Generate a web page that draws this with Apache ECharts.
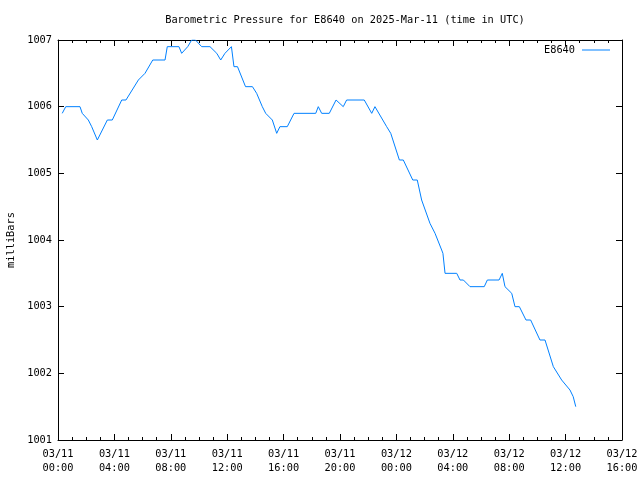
<!DOCTYPE html>
<html><head><meta charset="utf-8">
<script src="https://cdn.jsdelivr.net/npm/echarts@6/dist/echarts.min.js"></script>
<style>html,body{margin:0;padding:0;background:#fff}#c{width:640px;height:480px}</style>
</head><body><div id="c"></div>
<script>
// hours since 2025-03-11 00:00 UTC
const hours = [0.30,0.55,1.56,1.72,2.15,2.39,2.79,3.50,3.85,4.52,4.82,5.70,6.17,6.72,7.59,7.75,8.58,8.77,9.20,9.48,9.75,10.19,10.78,11.26,11.54,11.84,12.30,12.48,12.73,13.30,13.79,14.09,14.49,14.73,15.20,15.51,15.74,16.26,16.74,18.28,18.46,18.70,19.24,19.72,20.23,20.47,21.72,22.25,22.48,23.31,23.60,24.21,24.49,25.16,25.48,25.79,26.38,26.74,27.21,27.30,27.45,28.28,28.51,28.75,29.22,30.23,30.45,31.28,31.51,31.70,32.18,32.41,32.72,33.19,33.52,34.18,34.54,35.13,35.72,36.31,36.54,36.72];
const pressure = [1005.9,1006.0,1006.0,1005.9,1005.8,1005.7,1005.5,1005.8,1005.8,1006.1,1006.1,1006.4,1006.5,1006.7,1006.7,1006.9,1006.9,1006.8,1006.9,1007.0,1007.0,1006.9,1006.9,1006.8,1006.7,1006.8,1006.9,1006.6,1006.6,1006.3,1006.3,1006.2,1006.0,1005.9,1005.8,1005.6,1005.7,1005.7,1005.9,1005.9,1006.0,1005.9,1005.9,1006.1,1006.0,1006.1,1006.1,1005.9,1006.0,1005.7,1005.6,1005.2,1005.2,1004.9,1004.9,1004.6,1004.25,1004.1,1003.85,1003.8,1003.5,1003.5,1003.4,1003.4,1003.3,1003.3,1003.4,1003.4,1003.5,1003.3,1003.2,1003.0,1003.0,1002.8,1002.8,1002.5,1002.5,1002.1,1001.9,1001.75,1001.65,1001.5];
const xTickLabels = ["03/11\n00:00","03/11\n04:00","03/11\n08:00","03/11\n12:00","03/11\n16:00","03/11\n20:00","03/12\n00:00","03/12\n04:00","03/12\n08:00","03/12\n12:00","03/12\n16:00"];
const seriesName = "E8640";
const titleText = "Barometric Pressure for E8640 on 2025-Mar-11 (time in UTC)";
const yName = "milliBars";

const font = "DejaVu Sans Mono";
const chart = echarts.init(document.getElementById('c'), null, {renderer:'canvas'});
const tickStyle = {color:'#000', width:1};
chart.setOption({
  animation:false,
  backgroundColor:'#fff',
  title:{text:titleText, left:340, top:10, textAlign:'center',
    textStyle:{fontFamily:font, fontSize:10.3, fontWeight:'normal', color:'#000'}},
  legend:{show:true, right:25, top:40, icon:'rect', itemWidth:28, itemHeight:1, align:'right', itemGap:0,
    itemStyle:{color:'#0080ff'},
    textStyle:{fontFamily:font, fontSize:10.3, color:'#000', padding:[0,2,0,0]}},
  grid:{left:58, right:18, top:40, bottom:40, show:false, containLabel:false, outerBoundsMode:'none'},
  xAxis:[{type:'value', min:0, max:40, interval:4,
      axisLine:{show:true, onZero:false, lineStyle:{color:'#000'}},
      axisTick:{show:true, inside:true, length:6, lineStyle:tickStyle},
      minorTick:{show:true, splitNumber:4, length:3, lineStyle:tickStyle},
      splitLine:{show:false},
      axisLabel:{margin:7, fontFamily:font, fontSize:10.3, color:'#000', lineHeight:14,
        formatter:(v)=>xTickLabels[Math.round(v/4)]}},
    {type:'value', position:'top', min:0, max:40, interval:4,
      axisLine:{show:true, onZero:false, lineStyle:{color:'#000'}},
      axisTick:{show:true, inside:true, length:6, lineStyle:tickStyle},
      minorTick:{show:true, splitNumber:4, length:3, lineStyle:tickStyle},
      splitLine:{show:false}, axisLabel:{show:false}}],
  yAxis:[{type:'value', position:'left', min:1001, max:1007, interval:1,
      name:yName, nameLocation:'middle', nameGap:42, nameRotate:90,
      nameTextStyle:{fontFamily:font, fontSize:10.3, color:'#000'},
      axisLine:{show:true, onZero:false, lineStyle:{color:'#000'}},
      axisTick:{show:true, inside:true, length:6, lineStyle:tickStyle},
      splitLine:{show:false},
      axisLabel:{margin:6, fontFamily:font, fontSize:10.3, color:'#000', formatter:(v)=>String(v)}},
    {type:'value', position:'right', min:1001, max:1007, interval:1,
      axisLine:{show:true, onZero:false, lineStyle:{color:'#000'}},
      axisTick:{show:true, inside:true, length:6, lineStyle:tickStyle},
      splitLine:{show:false}, axisLabel:{show:false}}],
  series:[{name:seriesName, type:'line', xAxisIndex:0, yAxisIndex:0,
    data:hours.map((h,i)=>[h,pressure[i]]), showSymbol:false, symbol:'none',
    lineStyle:{color:'#0080ff', width:1}, itemStyle:{color:'#0080ff'}}]
});
</script></body></html>
